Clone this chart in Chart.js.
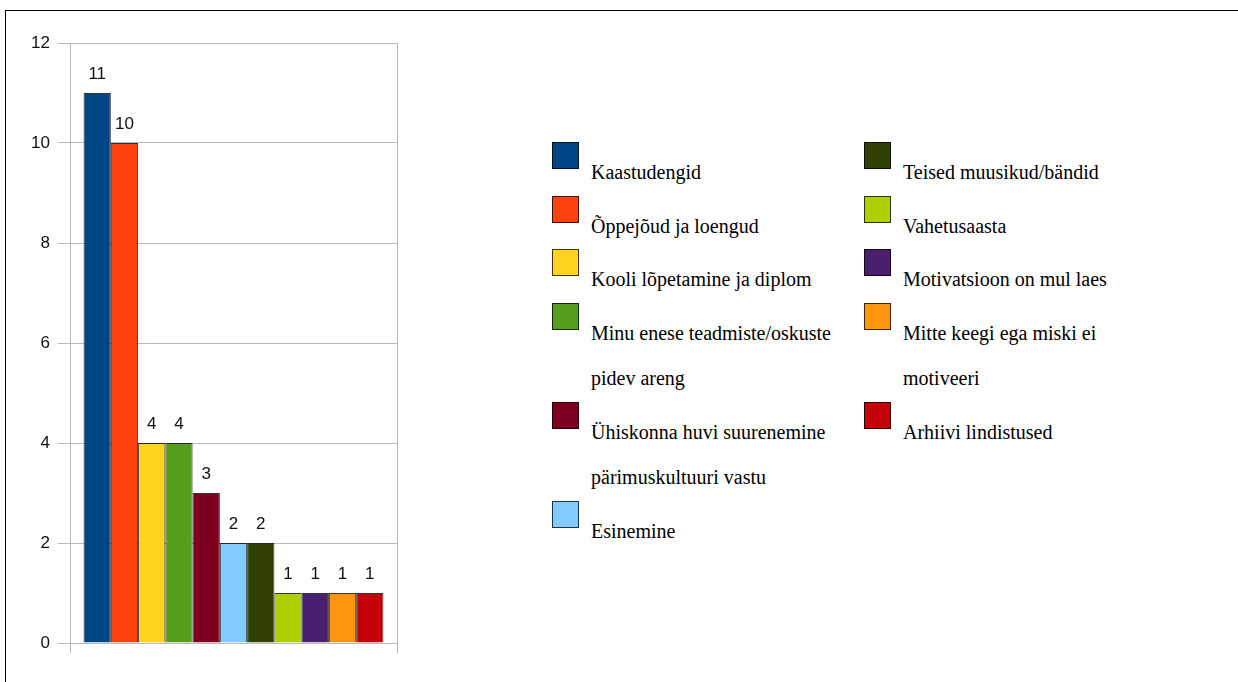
<!DOCTYPE html>
<html>
<head>
<meta charset="utf-8">
<script src="https://cdn.jsdelivr.net/npm/chart.js@4.4.1/dist/chart.umd.min.js"></script>
<style>
    body { margin: 0; background: #fff; width: 1238px; height: 682px; overflow: hidden; position: relative; }
    .frame { position: absolute; left: 5px; top: 10px; width: 1300px; height: 700px; border-top: 1px solid #000; border-left: 1px solid #000; }
    .chart-box { position: absolute; left: 0; top: 0; width: 420px; height: 682px; }
    .legend-col { position: absolute; top: 142px; }
    .legend-item { position: relative; }
    .legend-item .swatch { position: absolute; left: 0; top: 0; width: 25px; height: 25px; border: 1px solid rgba(0,0,0,0.75); }
    .legend-item .text { margin-left: 39px; padding-top: 8px; font-family: "Liberation Serif", "Times New Roman", serif; font-size: 20px; line-height: 45.5px; color: #000; white-space: pre-line; }
</style>
</head>
<body>
<div class="frame"></div>
<div class="chart-box"><canvas id="motivationChart"></canvas></div>
<div class="legend-col" id="legendCol1" style="left:552px"></div>
<div class="legend-col" id="legendCol2" style="left:864px"></div>

<script>
// Chart data
const categories = [
    'Kaastudengid',
    'Õppejõud ja loengud',
    'Kooli lõpetamine ja diplom',
    'Minu enese teadmiste/oskuste\npidev areng',
    'Ühiskonna huvi suurenemine\npärimuskultuuri vastu',
    'Esinemine',
    'Teised muusikud/bändid',
    'Vahetusaasta',
    'Motivatsioon on mul laes',
    'Mitte keegi ega miski ei\nmotiveeri',
    'Arhiivi lindistused'
];
const counts = [11, 10, 4, 4, 3, 2, 2, 1, 1, 1, 1];
const barColors = ['#004586', '#ff420e', '#ffd320', '#579d1c', '#7e0021', '#83caff',
                   '#314004', '#aecf00', '#4b1f6f', '#ff950e', '#c5000b'];
const yTicks = [0, 2, 4, 6, 8, 10, 12];

// Build legend (two columns, first six on the left)
function buildLegend() {
    categories.forEach((name, i) => {
        const item = document.createElement('div');
        item.className = 'legend-item';
        item.innerHTML = `<div class="swatch" style="background:${barColors[i]}"></div><div class="text"></div>`;
        item.querySelector('.text').textContent = name;
        const col = i < 6 ? 'legendCol1' : 'legendCol2';
        document.getElementById(col).appendChild(item);
    });
}

// Value labels above each bar
const valueLabels = {
    id: 'valueLabels',
    afterDatasetsDraw(chart) {
        const ctx = chart.ctx;
        ctx.save();
        ctx.font = '17px "Liberation Sans", Arial, sans-serif';
        ctx.fillStyle = '#111';
        ctx.textAlign = 'center';
        ctx.textBaseline = 'alphabetic';
        chart.data.datasets.forEach((ds, i) => {
            const meta = chart.getDatasetMeta(i);
            meta.data.forEach((bar, j) => {
                ctx.fillText(ds.data[j], bar.x, bar.y - 14);
            });
        });
        ctx.restore();
    }
};

buildLegend();

const ctx = document.getElementById('motivationChart').getContext('2d');
new Chart(ctx, {
    type: 'bar',
    data: {
        labels: [''],
        datasets: categories.map((name, i) => ({
            label: name,
            data: [counts[i]],
            backgroundColor: barColors[i],
            borderColor: 'rgba(0,0,0,0.8)',
            borderWidth: 1,
            categoryPercentage: 0.917,
            barPercentage: 1
        }))
    },
    options: {
        responsive: true,
        maintainAspectRatio: false,
        animation: false,
        layout: {
            padding: { top: 43, right: 23, bottom: 29, left: 0 }
        },
        plugins: {
            legend: { display: false },
            tooltip: { enabled: false }
        },
        scales: {
            x: {
                ticks: { display: false },
                grid: { color: '#b8b8b8', tickLength: 10 },
                border: { color: '#b8b8b8' },
                afterFit: scale => { scale.height = 10; }
            },
            y: {
                min: 0,
                max: 12,
                afterBuildTicks: scale => { scale.ticks = yTicks.map(v => ({ value: v })); },
                ticks: {
                    padding: 8,
                    color: '#111',
                    font: { family: '"Liberation Sans", Arial, sans-serif', size: 17 }
                },
                grid: { color: '#b8b8b8', tickLength: 12 },
                border: { color: '#b8b8b8' },
                afterFit: scale => { scale.width = 70; }
            }
        }
    },
    plugins: [valueLabels]
});
</script>
</body>
</html>
